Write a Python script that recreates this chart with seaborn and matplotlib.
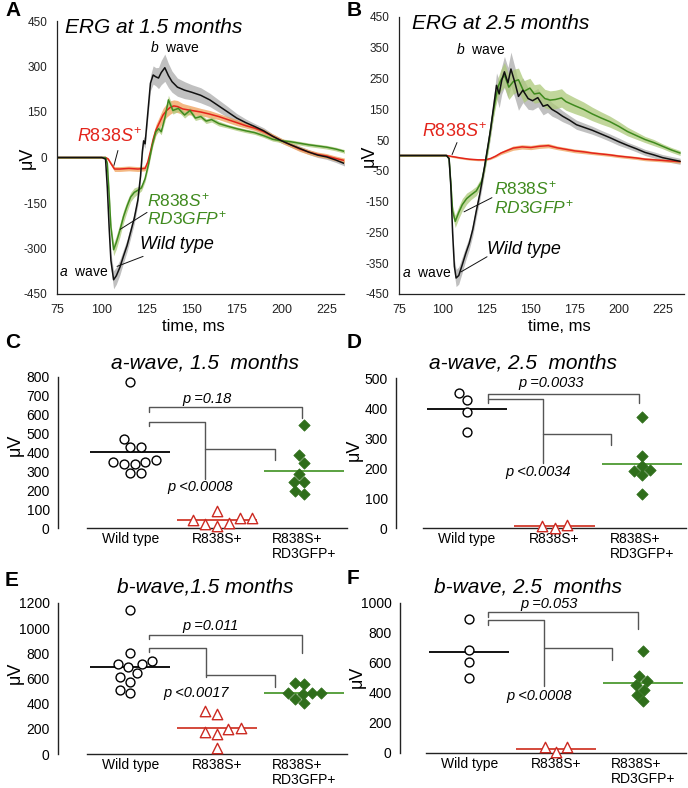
import numpy as np
import matplotlib
matplotlib.use("Agg")
import matplotlib.pyplot as plt
import seaborn as sns

sns.set_style("white")
plt.rcParams['font.family'] = ['Liberation Sans', 'DejaVu Sans']
plt.rcParams['mathtext.fontset'] = 'custom'
plt.rcParams['mathtext.rm'] = 'Liberation Sans'
plt.rcParams['mathtext.it'] = 'Liberation Sans:italic'
plt.rcParams['axes.unicode_minus'] = False
plt.rcParams.update({'text.color': 'black', 'xtick.color': 'black', 'ytick.color': 'black',
                     'axes.labelcolor': 'black'})

# ---- ERG traces, 1.5 months (time ms, amplitude uV, SEM) ----
t_wt15 = [75, 100, 102, 103, 104, 105, 106.5, 108, 110, 112, 114, 116, 118, 120, 121.5, 122.5, 123.2, 124, 125.5, 127,
          128.5, 130, 131.5, 133, 135, 137, 139, 142, 146, 150, 155, 160, 165, 170, 175, 180, 185, 190, 195, 200,
          205, 210, 215, 220, 225, 230, 235]
v_wt15 = [0, 0, -5, -100, -230, -340, -403, -390, -362, -325, -290, -245, -200, -140, -60, 20, 55, 45, 145, 245,
          272, 266, 262, 280, 296, 270, 250, 232, 222, 215, 205, 190, 170, 150, 130, 115, 102, 88, 70, 55,
          42, 30, 18, 8, 2, -8, -20]
s_wt15 = [3, 3, 3, 10, 20, 25, 30, 28, 25, 22, 20, 20, 18, 15, 15, 15, 15, 15, 20, 25,
          30, 30, 35, 40, 45, 40, 35, 30, 28, 25, 25, 22, 20, 18, 15, 12, 10, 10, 8, 8,
          8, 8, 8, 8, 8, 8, 8]

t_mut15 = [75, 102, 103.5, 105, 107, 110, 115, 120, 124, 125.5, 127, 128.5, 130, 132, 134, 136, 138, 140, 142, 145,
           150, 155, 160, 165, 170, 175, 180, 185, 190, 195, 200, 205, 210, 215, 220, 225, 230, 235]
v_mut15 = [0, 0, -5, -20, -38, -38, -36, -38, -36, -15, 20, 60, 90, 115, 140, 155, 165, 170, 168, 160,
           155, 150, 143, 135, 125, 115, 105, 97, 85, 70, 55, 42, 28, 18, 10, 5, -3, -10]
s_mut15 = [3, 3, 4, 6, 8, 8, 8, 8, 8, 10, 12, 15, 18, 20, 22, 22, 22, 20, 20, 18,
           15, 12, 12, 10, 10, 10, 8, 8, 8, 8, 8, 8, 8, 8, 8, 8, 8, 8]

t_res15 = [75, 102, 103, 104, 105, 106.5, 108, 110, 112, 114, 116, 118, 120, 122, 124, 126, 128, 130, 131.5, 133,
           135, 137, 139.5, 142.5, 146, 149, 152, 155, 158, 161, 165, 170, 175, 180, 185, 190, 195, 200, 205, 210,
           215, 220, 225, 230, 235]
v_res15 = [0, 0, -20, -120, -230, -304, -280, -240, -195, -160, -130, -115, -108, -100, -70, -20, 40, 85, 95, 85,
           130, 190, 155, 162, 140, 155, 130, 135, 120, 125, 112, 103, 95, 88, 82, 72, 60, 55, 52, 47,
           42, 38, 34, 28, 20]
s_res15 = [3, 3, 5, 10, 15, 20, 22, 22, 20, 18, 15, 15, 12, 10, 10, 10, 10, 10, 10, 10,
           12, 15, 12, 10, 10, 10, 8, 8, 8, 8, 8, 6, 6, 6, 6, 6, 6, 6, 6, 6,
           6, 6, 6, 6, 6]

# ---- ERG traces, 2.5 months ----
t_wt25 = [75, 102, 103.5, 104.5, 105.5, 106.5, 107.5, 109, 111, 113, 115, 117, 119, 121, 123, 125, 127, 129, 130.5, 132,
          133.5, 135, 137, 138.7, 141, 143, 145.5, 148.5, 151, 154, 157, 159.5, 162, 165, 168, 172, 176, 180, 185, 190,
          195, 200, 205, 210, 215, 220, 225, 230, 235]
v_wt25 = [0, 0, -10, -100, -250, -360, -398, -390, -355, -318, -285, -240, -180, -125, -60, 10, 80, 165, 228, 200,
          245, 272, 236, 281, 236, 192, 212, 185, 178, 188, 160, 165, 150, 140, 128, 115, 100, 92, 82, 70,
          58, 45, 33, 22, 10, 2, -7, -13, -19]
s_wt25 = [3, 3, 5, 10, 20, 25, 28, 28, 25, 22, 20, 20, 20, 20, 20, 22, 25, 30, 40, 45,
          45, 50, 50, 55, 50, 45, 40, 35, 30, 30, 28, 25, 22, 20, 18, 15, 15, 14, 13, 12,
          12, 12, 10, 10, 10, 10, 10, 10, 10]

t_mut25 = [75, 102, 105, 110, 115, 120, 124, 127, 130, 133, 136, 140, 145, 150, 155, 160, 165, 170, 175, 180,
           185, 190, 195, 200, 205, 210, 215, 220, 225, 230, 235]
v_mut25 = [0, 0, -3, -8, -12, -14, -14, -10, -2, 8, 15, 24, 28, 26, 30, 32, 25, 20, 15, 12,
           8, 5, 2, -2, -5, -8, -12, -14, -16, -18, -20]
s_mut25 = [2, 2, 3, 3, 3, 3, 3, 3, 4, 5, 6, 7, 7, 7, 7, 7, 6, 6, 6, 6,
           5, 5, 5, 5, 5, 5, 5, 5, 5, 5, 5]

t_res25 = [75, 102, 103.5, 104.5, 105.5, 107, 109, 111, 113.5, 116, 119, 122, 124, 126, 128, 130, 131.5, 133, 135, 137.5,
           140, 143, 146, 149.5, 152, 155, 158, 161, 164, 167.5, 170, 175, 180, 185, 190, 195, 200, 205, 210, 215,
           220, 225, 230, 235]
v_res25 = [0, 0, -10, -90, -180, -214, -185, -160, -140, -128, -115, -85, -30, 40, 120, 185, 225, 245, 262, 222,
           240, 246, 208, 219, 200, 203, 185, 180, 182, 187, 175, 162, 150, 135, 122, 110, 95, 78, 65, 52,
           42, 30, 18, 8]
s_res25 = [3, 3, 5, 10, 15, 20, 20, 20, 18, 15, 15, 15, 15, 18, 20, 25, 30, 35, 40, 40,
           40, 38, 35, 32, 30, 30, 30, 30, 30, 30, 28, 26, 24, 22, 20, 18, 16, 14, 12, 10,
           10, 8, 8, 8]

# ---- single-animal amplitudes (uV) ----
groups = ['Wild type', 'R838S+', 'R838S+\nRD3GFP+']
a15_wt = [771, 473, 431, 429, 348, 340, 358, 339, 348, 289, 289]
a15_mut = [55, 41, 20, 90, 9, 25, 53]
a15_res = [546, 387, 346, 245, 285, 245, 197, 179]
a25_wt = [450, 428, 386, 319]
a25_mut = [6, 1, 10]
a25_res = [369, 239, 206, 189, 176, 192, 113]
b15_wt = [1148, 802, 739, 712, 694, 712, 641, 609, 575, 509, 483]
b15_mut = [338, 319, 206, 198, 158, 172, 47]
b15_res = [557, 567, 483, 483, 483, 438, 478, 409]
b25_wt = [896, 689, 607, 500]
b25_mut = [38, 7, 40]
b25_res = [678, 511, 451, 478, 422, 389, 344]

BLACK, GRAY = '#111111', '#ababab'
RED, ORANGE = '#e3241b', '#f0a05a'
GREEN, LGREEN = '#3f8a1e', '#acc97a'
TRI_RED, MEAN_RED = '#cc2a22', '#d13a2c'
DIAMOND, MEAN_GREEN = '#2f6e1b', '#4d9a31'
BRACKET = '#555555'

W, H = 688, 788
fig = plt.figure(figsize=(W / 100, H / 100), dpi=100)


def add_ax(left, top, right, bottom):
    return fig.add_axes([left / W, 1 - bottom / H, (right - left) / W, (bottom - top) / H])


def erg_panel(ax, traces, yticks, xmax, title, notes):
    for t, v, s, band, line in traces:
        v, s = np.asarray(v), np.asarray(s)
        ax.fill_between(t, v - s, v + s, color=band, alpha=0.75, lw=0)
    for t, v, s, band, line in traces[1:] + traces[:1]:
        sns.lineplot(x=t, y=v, ax=ax, color=line, lw=1.1, estimator=None)
    ax.set_xlim(75, xmax)
    ax.set_ylim(-450, 450)
    ax.set_xticks(range(75, 226, 25))
    ax.set_yticks(yticks)
    ax.tick_params(axis='both', direction='in', length=4, width=0.8, colors='#222222', pad=7)
    ax.tick_params(axis='x', labelsize=9)
    ax.tick_params(axis='y', labelsize=8.5)
    for sp in ['top', 'right']:
        ax.spines[sp].set_visible(False)
    for sp in ['left', 'bottom']:
        ax.spines[sp].set_color('#222222')
        ax.spines[sp].set_linewidth(0.9)
    ax.set_xlabel('')
    ax.set_ylabel('')
    ax.text(title[1], 0.975, title[0], transform=ax.transAxes, style='italic', fontsize=15, va='center')
    ax.text(-0.105, 0.5, 'μV', transform=ax.transAxes, rotation=90, fontsize=13, ha='center', va='center')
    ax.text(title[2], -0.118, 'time, ms', transform=ax.transAxes, fontsize=12, ha='center', va='center')
    bw, rl, gl, wl, aw = notes
    ax.text(bw[0], bw[1], r'$b$  wave', fontsize=10, ha='center', va='center')
    ax.text(aw[0], aw[1], r'$a$  wave', fontsize=10, ha='left', va='center')
    ax.text(rl[0], rl[1], r'$\mathit{R838S}^{+}$', fontsize=13, color=RED, ha='left', va='center')
    ax.plot(rl[2], rl[3], color=BLACK, lw=0.7)
    ax.text(gl[0], gl[1], r'$\mathit{R838S}^{+}$', fontsize=12.5, color=GREEN, ha='left', va='center')
    ax.text(gl[0], gl[2], r'$\mathit{RD3GFP}^{+}$', fontsize=12.5, color=GREEN, ha='left', va='center')
    ax.plot(gl[3], gl[4], color=BLACK, lw=0.7)
    ax.text(wl[0], wl[1], 'Wild type', style='italic', fontsize=13, ha='left', va='center')
    ax.plot(wl[2], wl[3], color=BLACK, lw=0.7)


def scatter_panel(ax, wt, mut, res, ymax, ystep, xleft, title, tpos, ylab, brackets, ptexts):
    sns.swarmplot(x=[groups[0]] * len(wt), y=wt, order=groups, ax=ax, marker='o', color='white',
                  edgecolor='black', linewidth=1, size=6.4)
    sns.swarmplot(x=[groups[1]] * len(mut), y=mut, order=groups, ax=ax, marker='^', color='white',
                  edgecolor=TRI_RED, linewidth=1, size=7.5)
    sns.swarmplot(x=[groups[2]] * len(res), y=res, order=groups, ax=ax, marker='D', color=DIAMOND,
                  edgecolor=DIAMOND, linewidth=0.5, size=5.8)
    for coll in ax.collections:
        coll.set_clip_on(False)
        coll.set_zorder(3)
    for i, vals, c in zip(range(3), (wt, mut, res), ('black', MEAN_RED, MEAN_GREEN)):
        ax.hlines(np.mean(vals), i - 0.46, i + 0.46, color=c, lw=1.3, zorder=2, clip_on=False)
    for seg in brackets:
        xs, ys = zip(*seg)
        ax.plot(xs, ys, color=BRACKET, lw=1.0, clip_on=False)
    for s, x, y in ptexts:
        ax.text(x, y, s, ha='center', va='center', style='italic', fontsize=10.5)
    ax.set_xlim(xleft, 2.5)
    ax.set_ylim(0, ymax)
    ax.set_yticks(np.arange(0, ymax + 1, ystep))
    ax.set_xticks([-0.5, 0.5, 1.5, 2.5])
    ax.set_xticklabels([])
    ax.set_xticks([0, 1, 2], minor=True)
    ax.set_xticklabels(groups, minor=True, fontsize=10)
    for lab in ax.get_xticklabels(minor=True):
        lab.set_multialignment('left')
        lab.set_linespacing(1.05)
    ax.tick_params(axis='x', which='major', direction='in', length=6, width=1, color='#222222')
    ax.tick_params(axis='x', which='minor', length=0, pad=3)
    ax.tick_params(axis='y', direction='out', length=4, width=1, labelsize=10, pad=2, color='#222222')
    ax.spines['bottom'].set_bounds(-0.5, 2.5)
    for sp in ['top', 'right']:
        ax.spines[sp].set_visible(False)
    for sp in ['left', 'bottom']:
        ax.spines[sp].set_color('#222222')
        ax.spines[sp].set_linewidth(1.0)
    ax.set_xlabel('')
    ax.set_ylabel('')
    ax.text(tpos[0], tpos[1], title, transform=ax.transAxes, ha='center', va='center', style='italic', fontsize=15)
    ax.text(ylab[0], ylab[1], 'μV', transform=ax.transAxes, rotation=90, ha='center', va='center', fontsize=13)


# ---- A ----
axA = add_ax(57, 21, 344, 294)
erg_panel(axA,
          [(t_wt15, v_wt15, s_wt15, GRAY, BLACK),
           (t_mut15, v_mut15, s_mut15, ORANGE, RED),
           (t_res15, v_res15, s_res15, LGREEN, GREEN)],
          range(-450, 451, 150), 234.7, ('ERG at 1.5 months', 0.028, 0.474),
          ((140.7, 362),
           (86.1, 69, [108.9, 106.7], [23, -26]),
           (125.1, -142, -199, [125.1, 110.1], [-181, -237]),
           (121.2, -286, [122.9, 108.4], [-326, -359]),
           (76.1, -378)))

# ---- B ----
axB = add_ax(399, 17, 684, 294)
erg_panel(axB,
          [(t_wt25, v_wt25, s_wt25, GRAY, BLACK),
           (t_mut25, v_mut25, s_mut25, ORANGE, RED),
           (t_res25, v_res25, s_res25, LGREEN, GREEN)],
          range(-450, 451, 100), 237.2, ('ERG at 2.5 months', 0.045, 0.563),
          ((121.7, 344),
           (88.1, 77, [108, 105.2], [42, 3]),
           (129.1, -108, -168, [127.9, 112], [-137, -183]),
           (125.1, -306, [125.1, 110.3], [-329, -378]),
           (76.7, -381)))

# ---- C ----
axC = add_ax(58, 377, 347, 528)
scatter_panel(axC, a15_wt, a15_mut, a15_res, 800, 100, -0.834, 'a-wave, 1.5  months', (0.509, 1.09),
              (-0.149, 0.55),
              [[(0.22, 612), (0.22, 640), (1.98, 640), (1.98, 582)],
               [(0.22, 541), (0.22, 564), (0.86, 564), (0.86, 262)],
               [(0.86, 418), (1.67, 418), (1.67, 360)]],
              [('p =0.18', 0.88, 683), ('p <0.0008', 0.8, 215)])

# ---- D ----
axD = add_ax(396, 378, 686, 528)
scatter_panel(axD, a25_wt, a25_mut, a25_res, 500, 100, -0.808, 'a-wave, 2.5  months', (0.438, 1.1),
              (-0.145, 0.52),
              [[(0.24, 431), (0.24, 448), (1.96, 448), (1.96, 417)],
               [(0.24, 417), (0.24, 431), (0.87, 431), (0.87, 217)],
               [(0.87, 314), (1.65, 314), (1.65, 276)]],
              [('p =0.0033', 0.96, 483), ('p <0.0034', 0.81, 186)])

# ---- E ----
axE = add_ax(58, 603, 347, 754)
scatter_panel(axE, b15_wt, b15_mut, b15_res, 1200, 200, -0.834, 'b-wave,1.5 months', (0.509, 1.106),
              (-0.149, 0.54),
              [[(0.22, 910), (0.22, 945), (1.98, 945), (1.98, 805)],
               [(0.22, 813), (0.22, 844), (0.87, 844), (0.87, 615)],
               [(0.87, 628), (1.67, 628), (1.67, 536)]],
              [('p =0.011', 0.92, 1016), ('p <0.0017', 0.76, 483)])

# ---- F ----
axF = add_ax(400, 603, 686, 753)
scatter_panel(axF, b25_wt, b25_mut, b25_res, 1000, 200, -0.80, 'b-wave, 2.5  months', (0.446, 1.107),
              (-0.15, 0.51),
              [[(0.22, 907), (0.22, 938), (1.95, 938), (1.95, 827)],
               [(0.22, 856), (0.22, 884), (0.86, 884), (0.86, 444)],
               [(0.86, 700), (1.65, 700), (1.65, 622)]],
              [('p =0.053', 0.92, 993), ('p <0.0008', 0.8, 378)])

for letter, x, y in [('A', 5, 11), ('B', 347, 10), ('C', 5, 343), ('D', 347, 343), ('E', 5, 580), ('F', 347, 578)]:
    fig.text(x / W, 1 - y / H, letter, fontsize=15, fontweight='bold', ha='left', va='center')

fig.savefig('out.png', dpi=100)
